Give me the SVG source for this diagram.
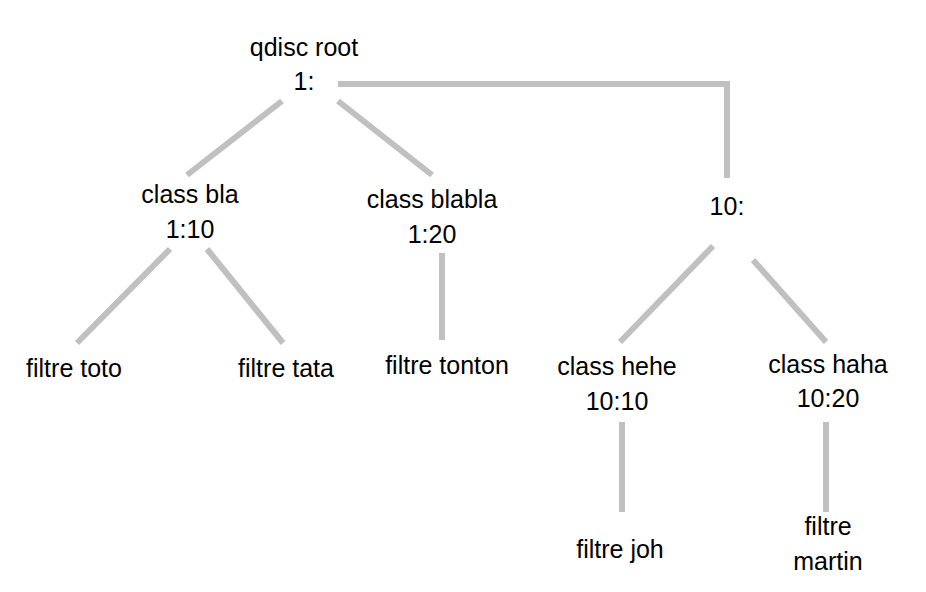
<svg xmlns="http://www.w3.org/2000/svg" width="926" height="592" viewBox="0 0 926 592">
<style>
text{font-family:"Liberation Sans",Arial,sans-serif;font-size:25px;fill:#000;text-anchor:middle}
.c{stroke:#c0c0c0;stroke-width:6;fill:none}
</style>
<rect width="926" height="592" fill="#fff"/>
<g id="connectors">
<line class="c" x1="282" y1="101" x2="187" y2="175"/>
<line class="c" x1="338" y1="101" x2="432" y2="175"/>
<path class="c" d="M338 84H727V178"/>
<line class="c" x1="170" y1="249" x2="77" y2="343"/>
<line class="c" x1="207" y1="249" x2="283" y2="343"/>
<line class="c" x1="442" y1="253" x2="442" y2="340"/>
<line class="c" x1="713" y1="246" x2="620" y2="342"/>
<line class="c" x1="753" y1="260" x2="826" y2="342"/>
<line class="c" x1="622" y1="422" x2="622" y2="512"/>
<line class="c" x1="826" y1="422" x2="826" y2="512"/>
</g>
<g id="root"><text x="304" y="56">qdisc root</text><text x="304" y="90">1:</text></g>
<g id="bla"><text x="190" y="203">class bla</text><text x="190" y="238">1:10</text></g>
<g id="blabla"><text x="432" y="208">class blabla</text><text x="432" y="243">1:20</text></g>
<g id="n10"><text x="727" y="215">10:</text></g>
<g id="toto"><text x="74" y="377">filtre toto</text></g>
<g id="tata"><text x="286" y="377">filtre tata</text></g>
<g id="tonton"><text x="447" y="374">filtre tonton</text></g>
<g id="hehe"><text x="617" y="375">class hehe</text><text x="617" y="410">10:10</text></g>
<g id="haha"><text x="828" y="373">class haha</text><text x="828" y="407">10:20</text></g>
<g id="joh"><text x="620" y="558">filtre joh</text></g>
<g id="martin"><text x="828" y="535">filtre</text><text x="828" y="570">martin</text></g>
</svg>
